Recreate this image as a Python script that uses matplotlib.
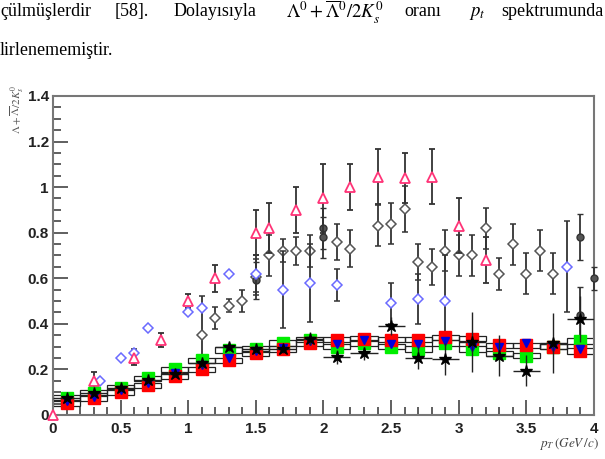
import matplotlib.pyplot as plt
from matplotlib.patches import Rectangle
from matplotlib.ticker import MultipleLocator

plt.rcParams['mathtext.fontset'] = 'stix'

# bin centres of the lower (ratio) series
bins = [0.1, 0.3, 0.5, 0.7, 0.9, 1.1, 1.3, 1.5, 1.7, 1.9,
        2.1, 2.3, 2.5, 2.7, 2.9, 3.1, 3.3, 3.5, 3.7, 3.9]
red_y = [0.053, 0.074, 0.10, 0.13, 0.17, 0.20, 0.24, 0.27, 0.29, 0.315,
         0.33, 0.335, 0.33, 0.33, 0.34, 0.335, 0.305, 0.305, 0.30, 0.28]
green_y = [0.074, 0.096, 0.12, 0.16, 0.20, 0.24, 0.285, 0.29, 0.315, 0.33,
           0.30, 0.315, 0.30, 0.29, 0.315, 0.29, 0.27, 0.26, 0.30, 0.325]
blue_y = [0.06, 0.08, 0.11, 0.14, 0.185, 0.22, 0.25, 0.28, 0.295, 0.325,
          0.31, 0.33, 0.31, 0.31, 0.325, 0.30, 0.30, 0.315, 0.30, 0.29]
black_y = [0.074, 0.096, 0.12, 0.155, 0.18, 0.227, 0.30, 0.29, 0.29, 0.335,
           0.255, 0.27, 0.39, 0.25, 0.245, 0.32, 0.26, 0.195, 0.316, 0.42]
black_err = [0.01, 0.01, 0.01, 0.01, 0.015, 0.02, 0.02, 0.02, 0.02, 0.03,
             0.03, 0.03, 0.04, 0.05, 0.07, 0.13, 0.09, 0.07, 0.13, 0.1]

# open triangles
tri_x = [0.0, 0.3, 0.6, 0.8, 1.0, 1.2, 1.5, 1.6, 1.8, 2.0, 2.2, 2.4, 2.6, 2.8, 3.0, 3.2]
tri_y = [0.0, 0.15, 0.25, 0.33, 0.50, 0.60, 0.80, 0.82, 0.90, 0.95, 1.0, 1.045,
         1.04, 1.045, 0.83, 0.68]
tri_err = [0.0, 0.04, 0.03, 0.03, 0.03, 0.06, 0.10, 0.11, 0.10, 0.15, 0.10, 0.12,
           0.11, 0.12, 0.12, 0.10]

# open blue diamonds
bd_x = [0.35, 0.5, 0.6, 0.7, 1.0, 1.1, 1.3, 1.5, 1.7, 1.9, 2.1, 2.5, 2.7, 2.9, 3.8]
bd_y = [0.15, 0.25, 0.27, 0.38, 0.45, 0.47, 0.62, 0.62, 0.55, 0.58, 0.57, 0.49,
        0.51, 0.50, 0.65]
bd_err = [0.0, 0.0, 0.02, 0.0, 0.0, 0.0, 0.0, 0.08, 0.17, 0.17, 0.07, 0.09,
          0.11, 0.2, 0.2]

# open gray diamonds
gd_x = [1.1, 1.2, 1.3, 1.4, 1.5, 1.6, 1.7, 1.8, 1.9, 2.1, 2.2, 2.4, 2.5, 2.6,
        2.7, 2.8, 2.9, 3.0, 3.1, 3.2, 3.3, 3.4, 3.5, 3.6, 3.7]
gd_y = [0.35, 0.425, 0.48, 0.50, 0.605, 0.70, 0.72, 0.72, 0.72, 0.76, 0.73, 0.83,
        0.84, 0.905, 0.67, 0.65, 0.72, 0.70, 0.70, 0.82, 0.62, 0.75, 0.62, 0.72, 0.62]
gd_err = [0.17, 0.05, 0.03, 0.05, 0.08, 0.09, 0.05, 0.06, 0.07, 0.08, 0.08, 0.09,
          0.09, 0.1, 0.08, 0.08, 0.09, 0.09, 0.09, 0.09, 0.07, 0.09, 0.09, 0.09, 0.09]

# dark filled circles
dc_x = [1.5, 2.0, 2.0, 3.9, 3.9, 4.0]
dc_y = [0.59, 0.82, 0.78, 0.78, 0.44, 0.60]
dc_err = [0.08, 0.09, 0.09, 0.1, 0.12, 0.05]

fig = plt.figure(figsize=(6.05, 4.59), dpi=100)
ax = fig.add_axes([0.0876, 0.096, 0.894, 0.695])

# systematic boxes
for x, y in zip(bins, red_y):
    ax.add_patch(Rectangle((x - 0.1, y - 0.012), 0.2, 0.024, fill=False,
                           ec='#222222', lw=0.9, zorder=2))
for x, y in zip(bins, green_y):
    ax.add_patch(Rectangle((x - 0.1, y - 0.012), 0.2, 0.024, fill=False,
                           ec='#222222', lw=0.9, zorder=2))

eb = dict(ecolor='#333333', elinewidth=1.3, capsize=2.5, capthick=1.0, ls='none')

ax.errorbar(gd_x, gd_y, yerr=gd_err, marker='D', ms=5, mfc='white', mec='#555555',
            mew=1.1, zorder=3, **eb)
ax.errorbar(dc_x, dc_y, yerr=dc_err, marker='o', ms=5, mfc='#555555', mec='#333333',
            zorder=3, clip_on=False, **eb)
ax.errorbar(bd_x, bd_y, yerr=bd_err, marker='D', ms=5, mfc='white', mec='#6a6aff',
            mew=1.1, zorder=4, **eb)
ax.errorbar(tri_x, tri_y, yerr=tri_err, marker='^', ms=7, mfc='white', mec='#ff3377',
            mew=1.3, zorder=4, clip_on=False, **eb)

ax.plot(bins, green_y, 's', ms=9, color='#00ee00', zorder=5)
ax.plot(bins, red_y, 's', ms=9, color='#ff0000', zorder=6)
ax.plot(bins, blue_y, 'v', ms=6, color='#0000dd', zorder=7)
ax.errorbar(bins, black_y, yerr=black_err, xerr=0.1, marker='*', ms=9, color='black',
            ecolor='#222222', elinewidth=1.0, ls='none', zorder=8)

ax.set_xlim(0, 4)
ax.set_ylim(0, 1.4)
ax.xaxis.set_major_locator(MultipleLocator(0.5))
ax.xaxis.set_minor_locator(MultipleLocator(0.1))
ax.yaxis.set_major_locator(MultipleLocator(0.2))
ax.yaxis.set_minor_locator(MultipleLocator(0.05))
ax.set_xticks([0, 0.5, 1, 1.5, 2, 2.5, 3, 3.5, 4])
ax.set_xticklabels(['0', '0.5', '1', '1.5', '2', '2.5', '3', '3.5', '4'])
ax.set_yticks([0, 0.2, 0.4, 0.6, 0.8, 1.0, 1.2, 1.4])
ax.set_yticklabels(['0', '0.2', '0.4', '0.6', '0.8', '1', '1.2', '1.4'])
ax.tick_params(which='both', direction='in', top=False, right=False,
               color='#444444', width=1.2)
ax.tick_params(which='major', length=11)
ax.tick_params(which='minor', length=5.5)
ax.tick_params(axis='x', pad=5)
ax.tick_params(axis='y', pad=3)
for lab in ax.get_xticklabels() + ax.get_yticklabels():
    lab.set_fontfamily('Liberation Sans')
    lab.set_fontweight('bold')
    lab.set_fontsize(11)
    lab.set_color('#222222')
for s in ax.spines.values():
    s.set_color('#777777')
    s.set_linewidth(1.5)

fig.text(0.014, 0.815, r'$\Lambda+\overline{\Lambda}/2K^{0}_{s}$', rotation=90,
         ha='left', va='top', fontsize=8, color='#555555')
fig.text(0.99, 0.015, r'$p_T\,(GeV\,/c)$', ha='right', va='bottom',
         fontsize=9.5, color='#444444')

# surrounding thesis text
row1 = 0.975
serif = dict(fontfamily='Liberation Serif', fontsize=13, va='center', ha='left')
fig.text(0.0, row1, 'çülmüşlerdir', **serif)
fig.text(0.190, row1, '[58].', **serif)
fig.text(0.287, row1, 'Dolayısıyla', **serif)
fig.text(0.472, row1 - 0.003, r'$\Lambda^{0}+\overline{\Lambda}^{0}/2K^{0}_{s}$',
         fontsize=13.5, va='center', ha='left')
fig.text(0.668, row1, 'oranı', **serif)
fig.text(0.775, row1 - 0.003, r'$p_t$', fontsize=13.5, va='center', ha='left')
fig.text(0.997, row1, 'spektrumunda', fontfamily='Liberation Serif', fontsize=13,
         va='center', ha='right')
fig.text(0.0, 0.891, 'lirlenememiştir.', **serif)

fig.savefig('out.png', dpi=100)
